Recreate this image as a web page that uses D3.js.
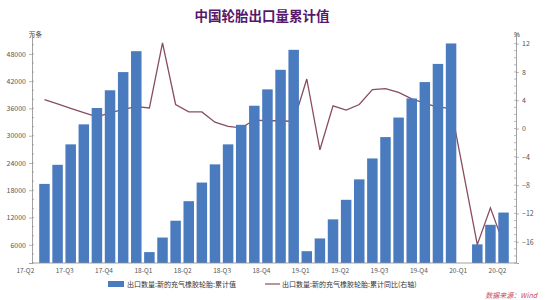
<!DOCTYPE html>
<html>
<head>
<meta charset="utf-8">
<script src="https://cdn.jsdelivr.net/npm/d3@7"></script>
<style>
  body { margin: 0; background: #fff; }
  text { font-family: "Noto Sans CJK SC", "DejaVu Sans", sans-serif; }
</style>
</head>
<body>
<div id="chart"></div>
<script>
// 月份 (2017-05 ~ 2020-04)
let months = [
  '2017-05', '2017-06', '2017-07', '2017-08', '2017-09', '2017-10', '2017-11', '2017-12',
  '2018-01', '2018-02', '2018-03', '2018-04', '2018-05', '2018-06', '2018-07', '2018-08', '2018-09', '2018-10', '2018-11', '2018-12',
  '2019-01', '2019-02', '2019-03', '2019-04', '2019-05', '2019-06', '2019-07', '2019-08', '2019-09', '2019-10', '2019-11', '2019-12',
  '2020-01', '2020-02', '2020-03', '2020-04'
]
// 出口数量:新的充气橡胶轮胎:累计值 (万条)
let cumValue = [
  19400, 23600, 28100, 32500, 36100, 40000, 44000, 48600,
  4400, 7600, 11300, 15600, 19700, 23700, 28100, 32400, 36600, 40200, 44500, 48900,
  4600, 7400, 11600, 15900, 20400, 25000, 29700, 34000, 38200, 41800, 45800, 50300,
  null, 6100, 10400, 13100
]
// 累计同比 (%)
let cumYoy = [
  4.1, 3.5, 2.85, 2.25, 1.65, 2.2, 2.7, 3.1,
  2.9, 12.1, 3.4, 2.35, 2.35, 0.9, 0.3, 0.1, 1.2, 1.1, 1.1, 1.0,
  7.0, -3.0, 3.2, 2.6, 3.4, 5.5, 5.65, 5.1, 4.2, 3.6, 3.0, 2.9,
  null, -16.4, -11.2, -16.3
]
// 横坐标标签 (季度起始月)
let quarterLabels = ['17-Q2', '17-Q3', '17-Q4', '18-Q1', '18-Q2', '18-Q3', '18-Q4', '19-Q1', '19-Q2', '19-Q3', '19-Q4', '20-Q1', '20-Q2']
let quarterMonths = ['2017-04', '2017-07', '2017-10', '2018-01', '2018-04', '2018-07', '2018-10', '2019-01', '2019-04', '2019-07', '2019-10', '2020-01', '2020-04']
let leftTicks = [6000, 12000, 18000, 24000, 30000, 36000, 42000, 48000]
let rightTicks = [-16, -12, -8, -4, 0, 4, 8, 12]

let svg = d3.select('#chart').append('svg').attr('width', 550).attr('height', 300)
let plotLeft = 32
let plotRight = 516
let plotTop = 33
let plotBottom = 263
let axisColor = '#8a8a8a'
let labelColor = '#555'

// 比例尺
let x = d3.scaleBand().domain(months).range([plotLeft, plotRight]).paddingInner(0.2).paddingOuter(0.55)
let yL = d3.scaleLinear().domain([2000, 52600]).range([plotBottom, plotTop])
let yR = d3.scaleLinear().domain([-19, 13.5]).range([plotBottom, plotTop])
let cx = m => x(m) + x.bandwidth() / 2
// 2017-04 不在数据内, 用步长往前推一格
let labelX = m => months.indexOf(m) >= 0 ? cx(m) : cx(months[0]) - x.step()

// 标题
svg.append('text').text('中国轮胎出口量累计值')
  .attr('x', 262).attr('y', 21).attr('text-anchor', 'middle')
  .attr('font-size', 13.5).attr('font-weight', 'bold').attr('fill', '#55186b')

svg.append('text').text('万条').attr('x', 29).attr('y', 37).attr('font-size', 6.5).attr('fill', '#444')
svg.append('text').text('%').attr('x', 514).attr('y', 37).attr('font-size', 6.5).attr('fill', '#444')

// 折线在柱子下面
let lineData = months.map((m, i) => ({ m: m, v: cumYoy[i] })).filter(d => d.v !== null)
let line = d3.line().x(d => cx(d.m)).y(d => yR(d.v))
svg.append('path').datum(lineData).attr('d', line)
  .attr('fill', 'none').attr('stroke', '#874d62').attr('stroke-width', 1.3)

// 柱子
let barData = months.map((m, i) => ({ m: m, v: cumValue[i] })).filter(d => d.v !== null)
svg.append('g').attr('class', 'bars').selectAll('rect').data(barData).enter().append('rect')
  .attr('x', d => x(d.m))
  .attr('y', d => yL(d.v))
  .attr('width', x.bandwidth())
  .attr('height', d => plotBottom - yL(d.v))
  .attr('fill', '#4a7bbf')

// 左轴
let yAxisL = d3.axisLeft(yL).tickValues(leftTicks).tickSize(3).tickFormat(d3.format('d'))
let gL = svg.append('g').attr('transform', 'translate(' + plotLeft + ',0)').call(yAxisL)
let minorL = d3.range(2000, 52001, 2000)
svg.append('g').selectAll('line').data(minorL).enter().append('line')
  .attr('x1', plotLeft).attr('x2', plotLeft + 2).attr('y1', d => yL(d)).attr('y2', d => yL(d))
  .attr('stroke', axisColor).attr('stroke-width', 0.6)

// 右轴
let yAxisR = d3.axisRight(yR).tickValues(rightTicks).tickSize(3)
let gR = svg.append('g').attr('transform', 'translate(' + plotRight + ',0)').call(yAxisR)
let minorR = d3.range(-19, 14, 1)
svg.append('g').selectAll('line').data(minorR).enter().append('line')
  .attr('x1', plotRight - 2).attr('x2', plotRight).attr('y1', d => yR(d)).attr('y2', d => yR(d))
  .attr('stroke', axisColor).attr('stroke-width', 0.6)

// 横轴
svg.append('line').attr('x1', plotLeft).attr('x2', plotRight).attr('y1', plotBottom).attr('y2', plotBottom)
  .attr('stroke', axisColor).attr('stroke-width', 0.8)
svg.append('g').selectAll('text').data(quarterLabels).enter().append('text')
  .text(d => d)
  .attr('x', (d, i) => labelX(quarterMonths[i]) - 6)
  .attr('y', 273)
  .attr('text-anchor', 'middle')
  .attr('font-size', 6.5).attr('fill', labelColor)

;[gL, gR].forEach(g => {
  g.select('.domain').attr('stroke', axisColor).attr('stroke-width', 0.8)
  g.selectAll('.tick line').attr('stroke', axisColor).attr('stroke-width', 0.6)
  g.selectAll('.tick text').attr('fill', labelColor).attr('font-size', 7)
    .attr('font-family', '"Liberation Sans", sans-serif')
})

// 图例
svg.append('rect').attr('x', 108).attr('y', 281).attr('width', 16).attr('height', 6).attr('fill', '#4a7bbf')
svg.append('text').text('出口数量:新的充气橡胶轮胎:累计值').attr('x', 127).attr('y', 287)
  .attr('font-size', 7).attr('fill', '#333')
svg.append('line').attr('x1', 265).attr('x2', 280).attr('y1', 284).attr('y2', 284)
  .attr('stroke', '#874d62').attr('stroke-width', 1.2)
svg.append('text').text('出口数量:新的充气橡胶轮胎:累计同比(右轴)').attr('x', 282).attr('y', 287)
  .attr('font-size', 7).attr('fill', '#333')

// 数据来源
svg.append('text').text('数据来源：Wind').attr('x', 537).attr('y', 298).attr('text-anchor', 'end')
  .attr('font-size', 7).attr('font-style', 'italic').attr('fill', '#c8484f')
</script>
</body>
</html>
